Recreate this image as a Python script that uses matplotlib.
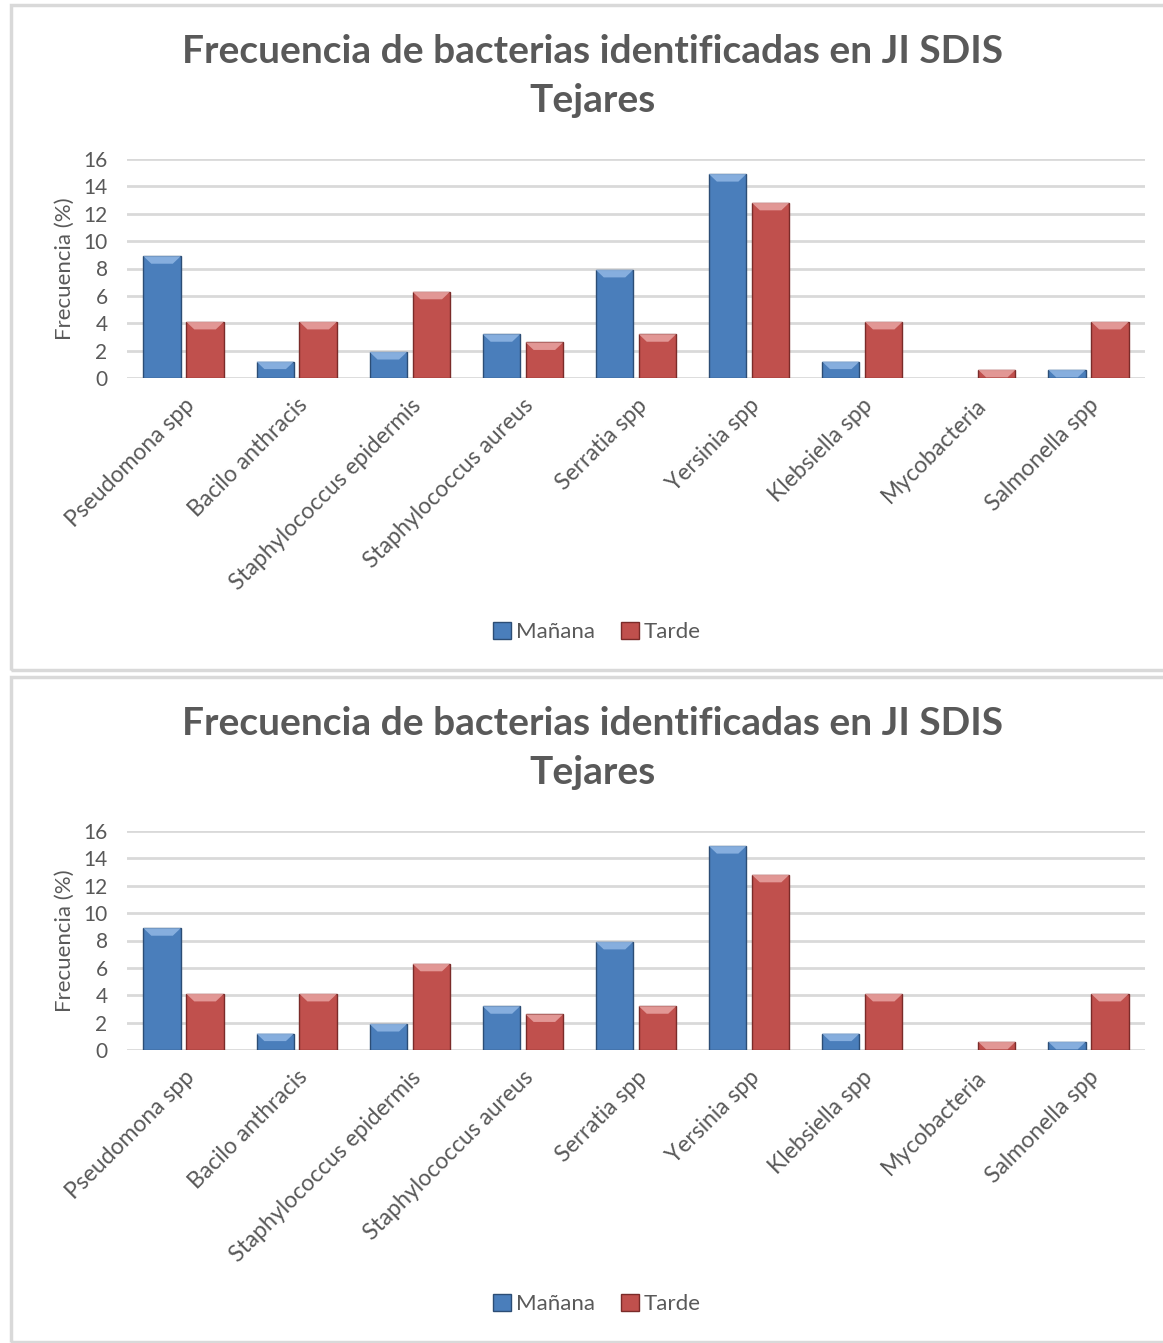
import matplotlib
matplotlib.use("Agg")
import matplotlib.pyplot as plt
from matplotlib.patches import Rectangle, Polygon
import numpy as np

plt.rcParams['font.family'] = ['Lato', 'DejaVu Sans']

# --- datos ---
bacterias = ["Pseudomona spp", "Bacilo anthracis", "Staphylococcus epidermis",
             "Staphylococcus aureus", "Serratia spp", "Yersinia spp",
             "Klebsiella spp", "Mycobacteria", "Salmonella spp"]
manana = [8.9, 1.2, 1.9, 3.2, 7.9, 14.9, 1.2, 0.0, 0.6]
tarde = [4.1, 4.1, 6.3, 2.6, 3.2, 12.8, 4.1, 0.6, 4.1]
yticks = [0, 2, 4, 6, 8, 10, 12, 14, 16]
titulo = "Frecuencia de bacterias identificadas en JI SDIS\nTejares"

W, H = 1163, 1343
gris = "#595959"
azul, azul_claro, azul_borde = "#4a7ebb", "#8db4e2", "#2c4d75"
rojo, rojo_claro, rojo_borde = "#c0504d", "#e6a09e", "#7a2b29"

fig = plt.figure(figsize=(W / 100, H / 100), dpi=100)


def px(x, y, w, h):
    # rect en pixeles (origen arriba-izquierda) -> coords de figura
    return [x / W, 1 - (y + h) / H, w / W, h / H]


def barras(ax, x, vals, color, claro, borde):
    ancho = 0.33
    bevel_y = 0.55
    bevel_x = 0.07
    for xi, v in zip(x, vals):
        if v <= 0:
            continue
        ax.add_patch(Rectangle((xi - ancho / 2, 0), ancho, v, facecolor=color,
                               edgecolor=borde, linewidth=1.0, zorder=3))
        b = min(bevel_y, v)
        ax.add_patch(Polygon([(xi - ancho / 2, v), (xi + ancho / 2, v),
                              (xi + ancho / 2 - bevel_x, v - b),
                              (xi - ancho / 2 + bevel_x, v - b)],
                             closed=True, facecolor=claro, edgecolor='none',
                             alpha=0.9, zorder=4))


def panel(top):
    # marco
    fig.patches.append(Rectangle((11 / W, 1 - (top + 667) / H), 1.2, 665 / H,
                                 transform=fig.transFigure, facecolor='none',
                                 edgecolor='#d9d9d9', linewidth=2.5, zorder=0))
    fig.text(593 / W, 1 - (top + 31) / H, titulo, ha='center', va='top',
             fontsize=28, fontweight='bold', color=gris, linespacing=1.5)

    ax = fig.add_axes(px(127, top + 156, 1018, 219))
    x = np.arange(len(bacterias))
    barras(ax, x - 0.19, manana, azul, azul_claro, azul_borde)
    barras(ax, x + 0.19, tarde, rojo, rojo_claro, rojo_borde)
    ax.set_xlim(-0.5, len(bacterias) - 0.5)
    ax.set_ylim(0, 16)
    ax.set_yticks(yticks)
    ax.set_yticklabels([str(t) for t in yticks], fontsize=15, color=gris)
    ax.yaxis.grid(True, color='#d9d9d9', linewidth=2)
    ax.set_axisbelow(True)
    for s in ax.spines.values():
        s.set_visible(False)
    ax.tick_params(length=0, pad=14)
    ax.set_xticks(x)
    ax.set_xticklabels(bacterias, rotation=45, ha='right', rotation_mode='anchor',
                       fontsize=16.5, color=gris)
    ax.tick_params(axis='x', pad=12)
    ax.set_ylabel("Frecuencia (%)", fontsize=16, color=gris, labelpad=6)

    # leyenda
    hs = [Rectangle((0, 0), 1, 1, facecolor=azul, edgecolor=azul_borde),
          Rectangle((0, 0), 1, 1, facecolor=rojo, edgecolor=rojo_borde)]
    fig.legend(hs, ["Mañana", "Tarde"], loc='center',
               bbox_to_anchor=(597 / W, 1 - (top + 629) / H), ncol=2,
               frameon=False, fontsize=16, labelcolor=gris, handlelength=0.8,
               handleheight=0.8, handletextpad=0.2, columnspacing=1.2)


panel(3)
panel(675)

fig.savefig("out.png", dpi=100)
